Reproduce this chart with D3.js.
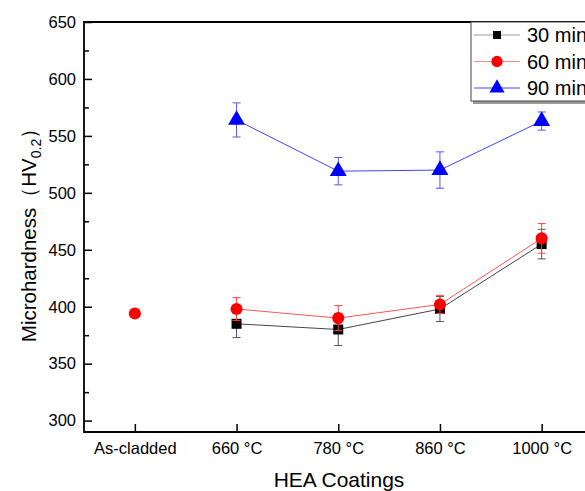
<!DOCTYPE html>
<html>
<head>
<meta charset="utf-8">
<script src="https://cdn.jsdelivr.net/npm/d3@7"></script>
<style>
  body { margin: 0; background: #fff; }
  svg { display: block; font-family: Arial, "Liberation Sans", sans-serif; }
</style>
</head>
<body>
<div id="chart"></div>
<script>
// data
const categories = ['As-cladded', '660 °C', '780 °C', '860 °C', '1000 °C'];
const series = ['30 min', '60 min', '90 min'];
const temps = ['660 °C', '780 °C', '860 °C', '1000 °C'];
const hv30 = [385, 380, 398, 455];
const err30 = [12, 14, 11, 13];
const hv60 = [398, 390, 402, 460];
const err60 = [10, 11, 8, 13];
const hv90 = [564, 519, 520, 563];
const err90 = [15, 12, 16, 8];
const asCladded = 394;
const yTicks = [300, 350, 400, 450, 500, 550, 600, 650];

const W = 585, H = 491;
const svg = d3.select('#chart').append('svg')
    .attr('width', W)
    .attr('height', H);

const mLeft = 84, mTop = 22, mBottom = 432;

const x = d3.scalePoint()
    .domain(categories)
    .range([mLeft, 592.5])
    .padding(0.5);

const y = d3.scaleLinear()
    .domain([290, 650])
    .range([mBottom, mTop]);

// axes, ticks pointing in
const yAxis = svg.append('g')
    .attr('transform', `translate(${mLeft},0)`)
    .call(d3.axisLeft(y).tickValues(yTicks).tickSizeInner(-8).tickSizeOuter(0).tickPadding(8));
yAxis.select('.domain').remove();
yAxis.selectAll('line').attr('stroke', '#000').attr('stroke-width', 1.5);
yAxis.selectAll('text').attr('font-size', 16.5).attr('fill', '#000');

const yMinor = svg.append('g')
    .attr('transform', `translate(${mLeft},0)`)
    .call(d3.axisLeft(y).tickValues(d3.range(325, 650, 50)).tickSize(-5).tickFormat(''));
yMinor.select('.domain').remove();
yMinor.selectAll('line').attr('stroke', '#000').attr('stroke-width', 1.5);

const xAxis = svg.append('g')
    .attr('transform', `translate(0,${mBottom})`)
    .call(d3.axisBottom(x).tickSizeInner(-8).tickSizeOuter(0).tickPadding(10));
xAxis.select('.domain').remove();
xAxis.selectAll('line').attr('stroke', '#000').attr('stroke-width', 1.5);
xAxis.selectAll('text').attr('font-size', 16.5).attr('fill', '#000');

// frame
svg.append('path')
    .attr('d', `M${W},${mTop}H${mLeft}V${mBottom}H${W}`)
    .attr('fill', 'none')
    .attr('stroke', '#000')
    .attr('stroke-width', 1.8);

// axis titles
svg.append('text')
    .attr('x', 339)
    .attr('y', 487)
    .attr('text-anchor', 'middle')
    .attr('font-size', 21)
    .text('HEA Coatings');

const yt = svg.append('text')
    .attr('transform', 'translate(36,230) rotate(-90)')
    .attr('text-anchor', 'middle')
    .attr('font-size', 20.5);
yt.append('tspan').text('Microhardness（HV');
yt.append('tspan').attr('font-size', 14).attr('dy', 5).text('0.2');
yt.append('tspan').attr('dy', -5).text('）');

const styles = [
    { vals: hv30, errs: err30, line: '#444', err: '#555', fill: '#000', shape: d3.symbolSquare, size: 100, legLine: '#999' },
    { vals: hv60, errs: err60, line: '#ff5555', err: '#ff4444', fill: '#ff0000', shape: d3.symbolCircle, size: 115, legLine: '#ff8888' },
    { vals: hv90, errs: err90, line: '#4444ff', err: '#5555ff', fill: '#0000ff', shape: d3.symbolTriangle, size: 125, legLine: '#4444ff' }
];

const line = d3.line()
    .x((d, i) => x(temps[i]))
    .y(d => y(d));

styles.forEach(s => {
    const g = svg.append('g');
    g.append('path')
        .attr('d', line(s.vals))
        .attr('fill', 'none')
        .attr('stroke', s.line)
        .attr('stroke-width', 1);

    const eb = g.selectAll('.eb').data(s.vals).enter().append('g');
    eb.append('line')
        .attr('x1', (d, i) => x(temps[i])).attr('x2', (d, i) => x(temps[i]))
        .attr('y1', (d, i) => y(d - s.errs[i])).attr('y2', (d, i) => y(d + s.errs[i]))
        .attr('stroke', s.err).attr('stroke-width', 1);
    [-1, 1].forEach(k => {
        eb.append('line')
            .attr('x1', (d, i) => x(temps[i]) - 4).attr('x2', (d, i) => x(temps[i]) + 4)
            .attr('y1', (d, i) => y(d + k * s.errs[i])).attr('y2', (d, i) => y(d + k * s.errs[i]))
            .attr('stroke', s.err).attr('stroke-width', 1);
    });

    g.selectAll('.pt').data(s.vals).enter().append('path')
        .attr('d', d3.symbol().type(s.shape).size(s.size))
        .attr('transform', (d, i) => `translate(${x(temps[i])},${y(d)})`)
        .attr('fill', s.fill);
});

// as-cladded point
svg.append('path')
    .attr('d', d3.symbol().type(d3.symbolCircle).size(115))
    .attr('transform', `translate(${x(categories[0])},${y(asCladded)})`)
    .attr('fill', '#ff0000');

// legend
const lg = svg.append('g').attr('transform', 'translate(471,22)');
lg.append('rect')
    .attr('x', 2).attr('y', 2).attr('width', 130).attr('height', 80)
    .attr('fill', '#999');
lg.append('rect')
    .attr('width', 130).attr('height', 79)
    .attr('fill', '#fff')
    .attr('stroke', '#444')
    .attr('stroke-width', 1);
styles.forEach((s, i) => {
    const ry = 13 + i * 26.5;
    lg.append('line')
        .attr('x1', 3).attr('x2', 49).attr('y1', ry).attr('y2', ry)
        .attr('stroke', s.legLine).attr('stroke-width', 1);
    lg.append('path')
        .attr('d', d3.symbol().type(s.shape).size(s.shape === d3.symbolSquare ? 64 : 100))
        .attr('transform', `translate(26,${ry})`)
        .attr('fill', s.fill);
    lg.append('text')
        .attr('x', 56).attr('y', ry + 7)
        .attr('font-size', 20)
        .text(series[i]);
});
</script>
</body>
</html>
